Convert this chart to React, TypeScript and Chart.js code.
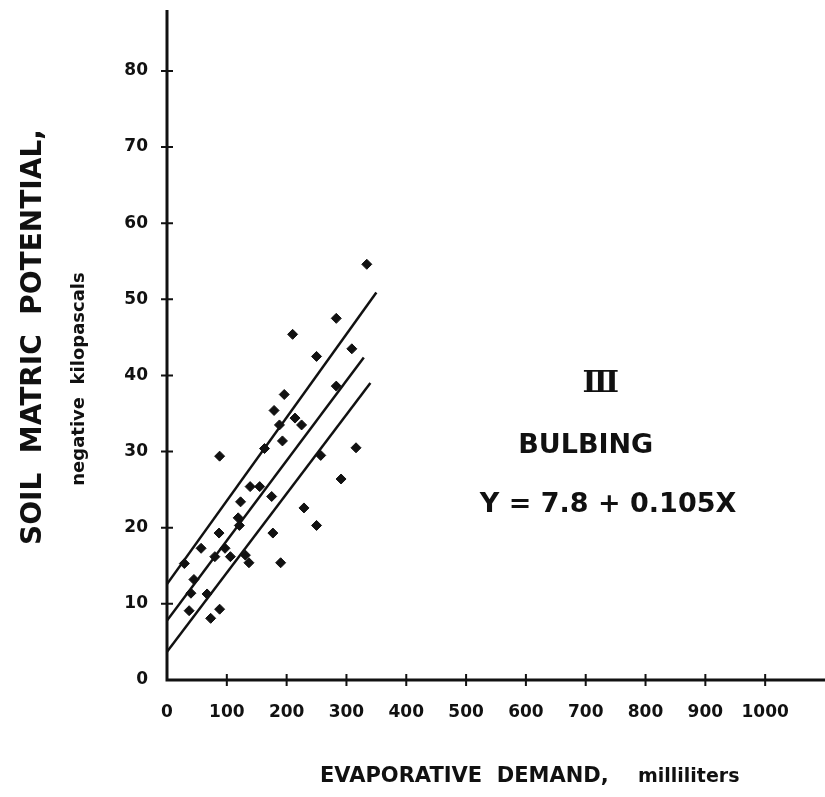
import React, { useEffect, useRef } from "react";
import { Chart, registerables } from "chart.js";

Chart.register(...registerables);

// Observed soil matric potential vs. evaporative demand (bulbing stage)
const demandMl = [
  334, 283, 210, 250, 309, 283, 196, 179, 188, 214, 225, 193, 316, 257, 291,
  175, 229, 163, 88, 250, 177, 190, 155, 139, 123, 119, 121, 87, 57, 29, 97,
  80, 106, 131, 137, 45, 40, 67, 37, 88, 73,
];
const potentialKpa = [
  54.6, 47.5, 45.4, 42.5, 43.5, 38.6, 37.5, 35.4, 33.5, 34.4, 33.5, 31.4, 30.5,
  29.5, 26.4, 24.1, 22.6, 30.4, 29.4, 20.3, 19.3, 15.4, 25.4, 25.4, 23.4, 21.3,
  20.3, 19.3, 17.3, 15.3, 17.3, 16.2, 16.2, 16.4, 15.4, 13.2, 11.4, 11.3, 9.1,
  9.3, 8.1,
];

// Fitted regression Y = 7.8 + 0.105X and its limit lines
const fitIntercept = 7.8;
const fitSlope = 0.105;
const fitRangeX = [0, 329];
const upperLimitX = [0, 350];
const upperLimitY = [12.6, 50.9];
const lowerLimitX = [0, 340];
const lowerLimitY = [3.7, 39.0];

// Axis ranges and tick values
const xMax = 1090;
const yMax = 88;
const xTickValues = [0, 100, 200, 300, 400, 500, 600, 700, 800, 900, 1000];
const yTickValues = [0, 10, 20, 30, 40, 50, 60, 70, 80];

const FONT = "'DejaVu Sans', sans-serif";
const INK = "#111";

const framePlugin = {
  id: "frame",
  afterDraw(chart: any) {
    const { ctx, chartArea, scales } = chart;
    const xs = scales.x;
    const ys = scales.y;
    const { left, bottom, top } = chartArea;
    ctx.save();
    ctx.strokeStyle = INK;
    ctx.lineCap = "butt";

    // axis lines
    ctx.lineWidth = 3;
    ctx.beginPath();
    ctx.moveTo(left, top);
    ctx.lineTo(left, bottom);
    ctx.lineTo(chart.width, bottom);
    ctx.stroke();

    // tick marks crossing the axes
    ctx.lineWidth = 2;
    ctx.beginPath();
    for (const v of yTickValues) {
      if (v === 0) continue;
      const py = ys.getPixelForValue(v);
      ctx.moveTo(left - 6, py);
      ctx.lineTo(left + 6, py);
    }
    for (const v of xTickValues) {
      if (v === 0) continue;
      const px = xs.getPixelForValue(v);
      ctx.moveTo(px, bottom - 6);
      ctx.lineTo(px, bottom + 6);
    }
    ctx.stroke();

    ctx.fillStyle = INK;

    // y-axis title
    ctx.save();
    ctx.translate(34, 337);
    ctx.rotate(-Math.PI / 2);
    ctx.textAlign = "center";
    ctx.textBaseline = "middle";
    ctx.font = `bold 28px ${FONT}`;
    ctx.fillText("SOIL  MATRIC  POTENTIAL,", 0, 0);
    ctx.restore();

    ctx.save();
    ctx.translate(79, 379);
    ctx.rotate(-Math.PI / 2);
    ctx.textAlign = "center";
    ctx.textBaseline = "middle";
    ctx.font = `bold 18px ${FONT}`;
    ctx.fillText("negative  kilopascals", 0, 0);
    ctx.restore();

    // x-axis title
    ctx.textAlign = "left";
    ctx.textBaseline = "alphabetic";
    ctx.font = `bold 21px ${FONT}`;
    ctx.fillText("EVAPORATIVE  DEMAND,", 320, 782);
    ctx.font = `bold 19px ${FONT}`;
    ctx.fillText("milliliters", 638, 782);

    // annotation
    ctx.textAlign = "center";
    ctx.textBaseline = "middle";
    ctx.font = `bold 30px 'DejaVu Serif', serif`;
    ctx.fillText("\u2162", xs.getPixelForValue(725), ys.getPixelForValue(38.8));
    ctx.font = `bold 27px ${FONT}`;
    ctx.fillText("BULBING", xs.getPixelForValue(700), ys.getPixelForValue(30.7));
    ctx.textAlign = "left";
    ctx.fillText("Y = 7.8 + 0.105X", xs.getPixelForValue(523), ys.getPixelForValue(23.0));

    ctx.restore();
  },
};

export default function App() {
  const ref = useRef<HTMLCanvasElement>(null);

  useEffect(() => {
    const canvas = ref.current!;
    const points = demandMl.map((x, i) => ({ x, y: potentialKpa[i] }));
    const fitLine = fitRangeX.map((x) => ({ x, y: fitIntercept + fitSlope * x }));
    const upperLine = upperLimitX.map((x, i) => ({ x, y: upperLimitY[i] }));
    const lowerLine = lowerLimitX.map((x, i) => ({ x, y: lowerLimitY[i] }));

    const lineStyle = {
      type: "line" as const,
      borderColor: INK,
      borderWidth: 2.5,
      pointRadius: 0,
      fill: false,
      tension: 0,
    };

    const tickFont = { family: FONT, size: 17, weight: "bold" };

    const chart = new Chart(canvas, {
      type: "scatter",
      data: {
        datasets: [
          {
            label: "observed",
            data: points,
            pointStyle: "rectRot",
            pointRadius: 5,
            backgroundColor: INK,
            borderColor: INK,
            borderWidth: 1,
          },
          { ...lineStyle, label: "fit", data: fitLine },
          { ...lineStyle, label: "upper", data: upperLine },
          { ...lineStyle, label: "lower", data: lowerLine },
        ] as any,
      },
      options: {
        animation: false,
        responsive: false,
        devicePixelRatio: 1,
        layout: { padding: { top: 10, left: 0, right: 0, bottom: 0 } },
        plugins: {
          legend: { display: false },
          tooltip: { enabled: false },
        },
        scales: {
          x: {
            type: "linear",
            min: 0,
            max: xMax,
            grid: { display: false, drawTicks: false },
            border: { display: false },
            afterBuildTicks: (s: any) => {
              s.ticks = xTickValues.map((value) => ({ value }));
            },
            afterFit: (s: any) => {
              s.height = 117;
              s.paddingLeft = 0;
              s.paddingRight = 0;
            },
            ticks: {
              padding: 22,
              color: INK,
              maxRotation: 0,
              autoSkip: false,
              callback: (v: any) => String(v),
              font: tickFont,
            },
          },
          y: {
            type: "linear",
            min: 0,
            max: yMax,
            grid: { display: false, drawTicks: false },
            border: { display: false },
            afterBuildTicks: (s: any) => {
              s.ticks = yTickValues.map((value) => ({ value }));
            },
            afterFit: (s: any) => {
              s.width = 167;
              s.paddingTop = 0;
              s.paddingBottom = 0;
            },
            ticks: {
              padding: 19,
              color: INK,
              autoSkip: false,
              callback: (v: any) => String(v),
              font: tickFont,
            },
          },
        },
      } as any,
      plugins: [framePlugin],
    });
    return () => chart.destroy();
  }, []);

  return (
    <div
      style={{
        position: "fixed",
        left: 0,
        top: 0,
        width: 825,
        height: 797,
        background: "#fff",
      }}
    >
      <canvas
        ref={ref}
        width={825}
        height={797}
        style={{ display: "block", width: 825, height: 797 }}
      />
    </div>
  );
}
